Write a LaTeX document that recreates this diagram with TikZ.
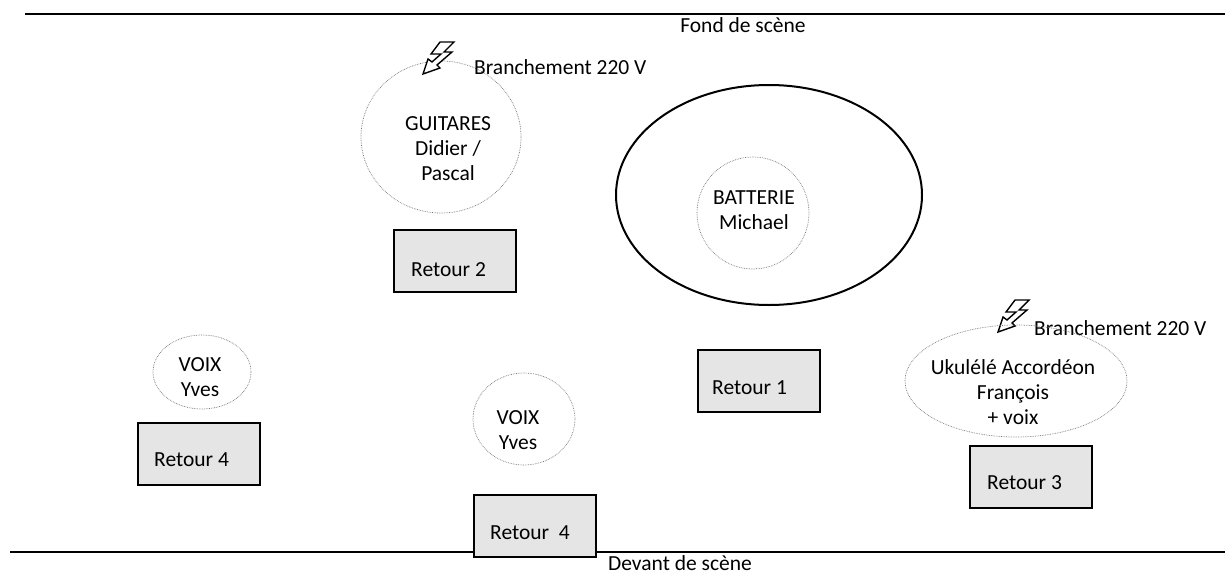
\documentclass[tikz,border=0pt]{standalone}
\usepackage{fontspec}
\setmainfont{Carlito}
\usetikzlibrary{shapes,arrows,positioning}

\tikzset{
  retour/.style={draw, line width=1.6pt, fill=black!10, minimum width=122pt,
    minimum height=62pt, anchor=north west, inner sep=0pt},
  zone/.style={draw=black!55, densely dotted, line width=0.7pt, ellipse, inner sep=0pt},
  txt/.style={align=center, inner sep=0pt},
  etiq/.style={anchor=west, inner sep=0pt},
  eclair/.pic={
    \draw[fill=white, line width=1.4pt, line join=miter]
      (17,0) -- (31,0) -- (21,10) -- (29,10) -- (14,23) -- (17,26) -- (0,32)
      -- (5,17) -- (9,20) -- (18,12) -- (8,12) -- cycle;
  }
}

\begin{document}
\begin{tikzpicture}[x=1pt, y=-1pt, font=\fontsize{21.5}{25}\selectfont]
	\useasboundingbox (0,0) rectangle (1225,575);
	% bords de la scene
	\coordinate (fondG) at (25,14);
	\coordinate (fondD) at (1225,14);
	\coordinate (devantG) at (10,552);
	\coordinate (devantD) at (1225,552);
	\draw [line width=2pt] (fondG) -- (fondD);
	\draw [line width=2pt] (devantG) -- (devantD);
	\node [txt] (fond) at (743,25) {Fond de scène};
	\node [txt] (devant) at (680,563) {Devant de scène};
	% guitares
	\node [zone, minimum width=160, minimum height=152] (guitares) at (441,137) {};
	\node [txt] (txtguit) at (448,149) {GUITARES\\Didier /\\Pascal};
	\pic at (423,42) {eclair};
	\node [etiq] (prise1) at (474,67) {Branchement 220 V};
	\node [retour] (retour2) at (393,229) {};
	\node [etiq] (txtr2) at (411,270) {Retour 2};
	% batterie
	\node [draw, ellipse, line width=2pt, minimum width=306, minimum height=220, inner sep=0pt] (estrade) at (769,195) {};
	\node [zone, minimum width=112, minimum height=112] (batterie) at (753,213) {};
	\node [txt] (txtbatt) at (754,210) {BATTERIE\\Michael};
	\node [retour] (retour1) at (697,349) {};
	\node [etiq] (txtr1) at (712,388) {Retour 1};
	% ukulele / accordeon
	\pic at (998,300) {eclair};
	\node [etiq] (prise2) at (1034,328) {Branchement 220 V};
	\node [zone, minimum width=222, minimum height=112] (ukulele) at (1016,381) {};
	\node [txt] (txtuku) at (1013,392) {Ukulélé Accordéon\\François\\+ voix};
	\node [retour] (retour3) at (969,445) {};
	\node [etiq] (txtr3) at (987,483) {Retour 3};
	% voix
	\node [zone, minimum width=98, minimum height=74] (voixG) at (202,372) {};
	\node [txt] (txtvoixG) at (200,377) {VOIX\\Yves};
	\node [retour] (retour4G) at (137,422) {};
	\node [etiq] (txtr4G) at (154,460) {Retour 4};
	\node [zone, minimum width=102, minimum height=92] (voixC) at (524,419) {};
	\node [txt] (txtvoixC) at (518,430) {VOIX\\Yves};
	\node [retour] (retour4C) at (473,494) {};
	\node [etiq] (txtr4C) at (490,533) {Retour\ \ 4};
\end{tikzpicture}
\end{document}
